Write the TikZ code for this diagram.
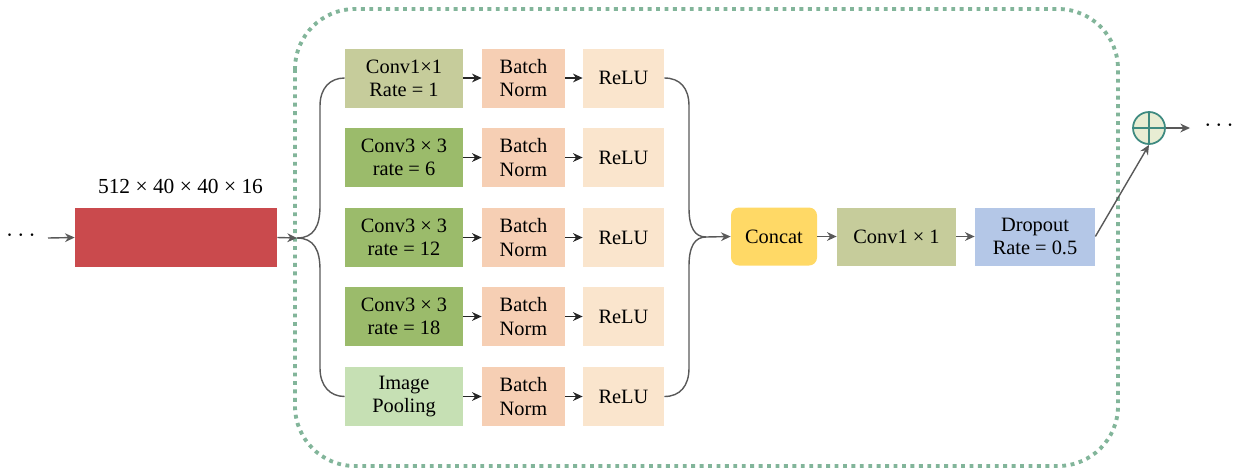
\documentclass[tikz,border=0pt]{standalone}
\usepackage{fontspec}
\setmainfont{Liberation Serif}
\usetikzlibrary{arrows.meta}
\definecolor{cred}{HTML}{CA4A4D}
\definecolor{colive}{HTML}{C6CC9B}
\definecolor{cgreen}{HTML}{9BBB6B}
\definecolor{cpool}{HTML}{C6E0B4}
\definecolor{cbn}{HTML}{F6CFB4}
\definecolor{crelu}{HTML}{FAE5CD}
\definecolor{cconcat}{HTML}{FFD966}
\definecolor{cdrop}{HTML}{B4C7E7}
\definecolor{cdot}{HTML}{82B59A}
\definecolor{cline}{HTML}{595959}
\definecolor{cteal}{HTML}{3E8A80}
\definecolor{ccircle}{HTML}{E8EDD3}
\tikzset{
  box/.style={draw=none, minimum height=59*0.02cm, align=center, inner sep=0pt,
    font=\fontsize{11.6}{13.2}\selectfont},
  c1/.style={box, minimum width=118*0.02cm},
  c2/.style={box, minimum width=83*0.02cm, fill=cbn},
  c3/.style={box, minimum width=81*0.02cm, fill=crelu},
  arr/.style={-{Stealth[length=5.5pt,width=5pt]}, line width=0.8pt, black!85},
  garr/.style={-{Stealth[length=5.5pt,width=5pt]}, line width=0.8pt, cline},
  curve/.style={line width=0.8pt, cline},
}
\begin{document}
\begin{tikzpicture}[x=0.02cm,y=-0.02cm]
\useasboundingbox (0,0) rectangle (1234,471);
% dotted frame
\draw[cdot, line width=2.2pt, dash pattern=on 2.2pt off 2.6pt, rounded corners=60*0.02cm]
  (295,9) rectangle (1118,466);
% left
\node[font=\fontsize{13.5}{15}\selectfont] (ldots) at (21,236) {$\cdots$};
\node[fill=cred, minimum width=202*0.02cm, minimum height=59*0.02cm, inner sep=0pt] (red) at (176,237.5) {};
\node[font=\fontsize{12.2}{14}\selectfont, anchor=south] (redlab) at (180.5,200) {512 × 40 × 40 × 16};
\coordinate (lin) at (48,238);
\draw[garr] (lin) -- (red.west);
\coordinate (br) at (297,238);
\draw[garr] (red.east) -- (br);
% rows
\foreach \r/\y in {1/78,2/157.5,3/237.5,4/316.5,5/396.5}{
  \node[c2] (bn\r) at (523.5,\y) {Batch\\Norm};
  \node[c3] (re\r) at (623.5,\y) {ReLU};
}
\node[c1, fill=colive] (cv1) at (404,78) {Conv1×1\\Rate = 1};
\node[c1, fill=cgreen] (cv2) at (404,157.5) {Conv3 × 3\\rate = 6};
\node[c1, fill=cgreen] (cv3) at (404,237.5) {Conv3 × 3\\rate = 12};
\node[c1, fill=cgreen] (cv4) at (404,316.5) {Conv3 × 3\\rate = 18};
\node[c1, fill=cpool] (cv5) at (404,396.5) {Image\\Pooling};
\foreach \r in {1,...,5}{
  \draw[arr] (cv\r) -- (bn\r);
  \draw[arr] (bn\r) -- (re\r);
}
% left branches
\draw[curve] (br) .. controls (314,238) and (320,226) .. (320,206) -- (320,106) .. controls (320,88) and (330,78) .. (cv1.west);
\draw[curve] (br) .. controls (314,238) and (320,250) .. (320,270) -- (320,368) .. controls (320,386) and (330,396.5) .. (cv5.west);
% concat etc
\node[box, fill=cconcat, rounded corners=8*0.02cm, minimum width=86*0.02cm, minimum height=58*0.02cm] (concat) at (774,236.5) {Concat};
\node[box, fill=colive, minimum width=119*0.02cm, minimum height=58*0.02cm] (conv) at (896.5,236.5) {Conv1 × 1};
\node[box, fill=cdrop, minimum width=120*0.02cm, minimum height=58*0.02cm] (drop) at (1035,236.5) {Dropout\\Rate = 0.5};
\coordinate (mg) at (706,237);
\draw[curve] (re1.east) .. controls (680,78) and (689,88) .. (689,106) -- (689,208) .. controls (689,228) and (695,237) .. (mg);
\draw[curve] (re5.east) .. controls (680,396.5) and (689,386) .. (689,368) -- (689,266) .. controls (689,246) and (695,237) .. (mg);
\draw[garr] (mg) -- (concat.west);
\draw[garr] (concat) -- (conv);
\draw[garr] (conv) -- (drop);
% sum
\node[circle, draw=cteal, fill=ccircle, line width=1pt, minimum size=32*0.02cm, inner sep=0pt] (sum) at (1149,128) {};
\draw[cteal, line width=1pt] (sum.north) -- (sum.south) (sum.west) -- (sum.east);
\draw[garr] (drop.east) -- (sum.south);
\coordinate (rout) at (1190,128);
\draw[garr] (sum.east) -- (rout);
\node[font=\fontsize{13.5}{15}\selectfont] (rdots) at (1219,126) {$\cdots$};
\end{tikzpicture}
\end{document}
